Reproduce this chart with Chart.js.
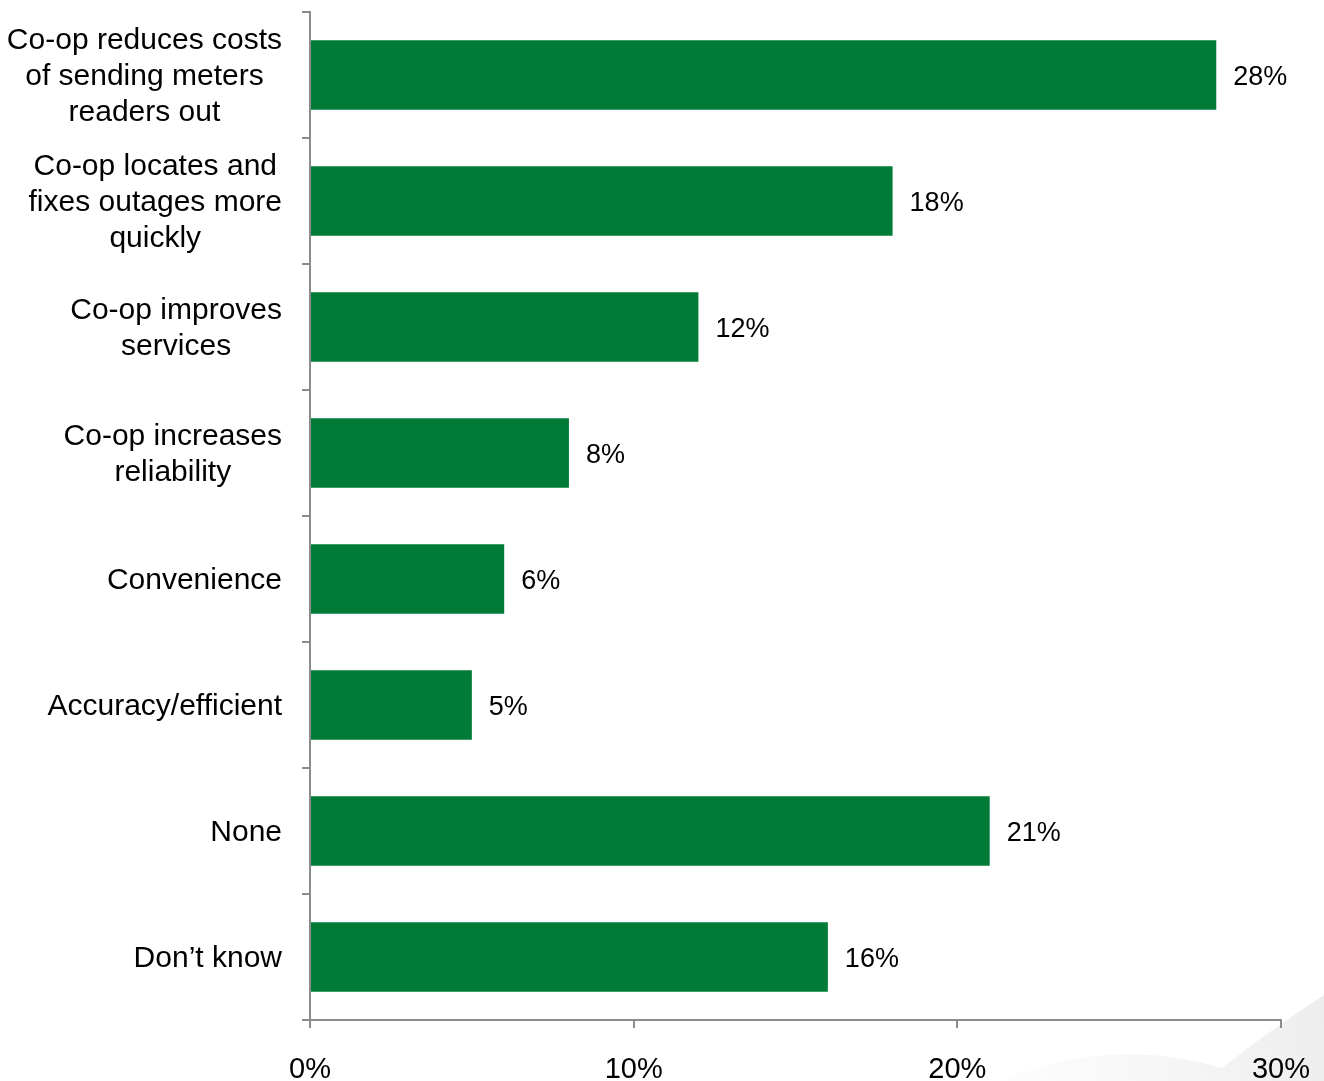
<!DOCTYPE html>
<html>
<head>
<meta charset="utf-8">
<script src="https://cdn.jsdelivr.net/npm/chart.js@4/dist/chart.umd.min.js"></script>
<style>
  html, body { margin: 0; padding: 0; background: #ffffff; }
  #wrap { width: 1324px; height: 1081px; position: relative; }
</style>
</head>
<body>
<div id="wrap"><canvas id="chart" width="1324" height="1081"></canvas></div>
<script>
// Categories (multi-line labels) and share of respondents, in percent
const categories = [
  ["Co-op reduces costs", "of sending meters", "readers out"],
  ["Co-op locates and", "fixes outages more", "quickly"],
  ["Co-op improves", "services"],
  ["Co-op increases", "reliability"],
  "Convenience",
  "Accuracy/efficient",
  "None",
  "Don\u2019t know"
];
const shares = [28, 18, 12, 8, 6, 5, 21, 16];
const axisTicks = [0, 10, 20, 30];

const FONT = "'Liberation Sans', Arial, sans-serif";
const GREEN = "#007c36";
const AXIS_GREY = "#8c8c8c";
const LABEL_SIZE = 30;
const LINE_HEIGHT = 36;

// Faint page-curl shape in the lower right corner of the slide
const backdrop = {
  id: "backdrop",
  beforeDraw(chart) {
    const ctx = chart.ctx;
    ctx.save();
    const g = ctx.createLinearGradient(1000, 1081, 1324, 980);
    g.addColorStop(0, "rgba(240,240,240,0.12)");
    g.addColorStop(0.5, "rgba(236,236,236,0.5)");
    g.addColorStop(1, "rgba(230,230,230,0.75)");
    ctx.fillStyle = g;
    ctx.beginPath();
    ctx.moveTo(1000, 1081);
    ctx.quadraticCurveTo(1110, 1035, 1222, 1068);
    ctx.quadraticCurveTo(1270, 1030, 1324, 995);
    ctx.lineTo(1324, 1081);
    ctx.closePath();
    ctx.fill();
    ctx.restore();
  }
};

// Category labels: each block right-aligned to the axis, lines centred within the block
const categoryLabels = {
  id: "categoryLabels",
  afterDraw(chart) {
    const ctx = chart.ctx;
    const y = chart.scales.y;
    const rightEdge = y.right - 28;
    ctx.save();
    ctx.font = LABEL_SIZE + "px " + FONT;
    ctx.fillStyle = "#000000";
    ctx.textAlign = "center";
    ctx.textBaseline = "middle";
    categories.forEach((label, i) => {
      const lines = Array.isArray(label) ? label : [label];
      const w = Math.max(...lines.map(l => ctx.measureText(l).width));
      const cx = rightEdge - w / 2;
      const cy = y.getPixelForTick(i) + 2;
      const start = cy - (lines.length - 1) * LINE_HEIGHT / 2;
      lines.forEach((l, k) => ctx.fillText(l, cx, start + k * LINE_HEIGHT));
    });
    ctx.restore();
  }
};

// Value labels to the right of each bar
const valueLabels = {
  id: "valueLabels",
  afterDatasetsDraw(chart) {
    const ctx = chart.ctx;
    const meta = chart.getDatasetMeta(0);
    ctx.save();
    ctx.font = "27px " + FONT;
    ctx.fillStyle = "#000000";
    ctx.textAlign = "left";
    ctx.textBaseline = "middle";
    meta.data.forEach((bar, i) => {
      ctx.fillText(shares[i] + "%", bar.x + 17, bar.y + 3);
    });
    ctx.restore();
  }
};

new Chart(document.getElementById("chart"), {
  type: "bar",
  data: {
    labels: categories,
    datasets: [{
      data: shares,
      backgroundColor: GREEN,
      borderWidth: 0,
      categoryPercentage: 1.0,
      barPercentage: 0.55
    }]
  },
  options: {
    indexAxis: "y",
    responsive: false,
    animation: false,
    layout: { padding: { top: 12, right: 43, left: 0, bottom: 0 } },
    plugins: {
      legend: { display: false },
      tooltip: { enabled: false }
    },
    scales: {
      x: {
        min: 0,
        max: 30,
        afterBuildTicks(scale) {
          scale.ticks = axisTicks.map(v => ({ value: v }));
        },
        afterFit(scale) {
          scale.height = 61;
          scale.paddingLeft = 0;
          scale.paddingRight = 0;
        },
        border: { color: AXIS_GREY, width: 2 },
        grid: {
          drawOnChartArea: false,
          drawTicks: true,
          tickLength: 8,
          color: AXIS_GREY,
          lineWidth: 2
        },
        ticks: {
          callback: v => v + "%",
          color: "#000000",
          font: { family: FONT, size: 29 },
          padding: 25,
          maxRotation: 0
        }
      },
      y: {
        afterFit(scale) {
          scale.width = 310;
          scale.paddingTop = 0;
          scale.paddingBottom = 0;
        },
        border: { color: AXIS_GREY, width: 2 },
        grid: {
          offset: true,
          drawOnChartArea: false,
          drawTicks: true,
          tickLength: 8,
          color: AXIS_GREY,
          lineWidth: 2
        },
        ticks: {
          display: false
        }
      }
    }
  },
  plugins: [backdrop, categoryLabels, valueLabels]
});
</script>
</body>
</html>
